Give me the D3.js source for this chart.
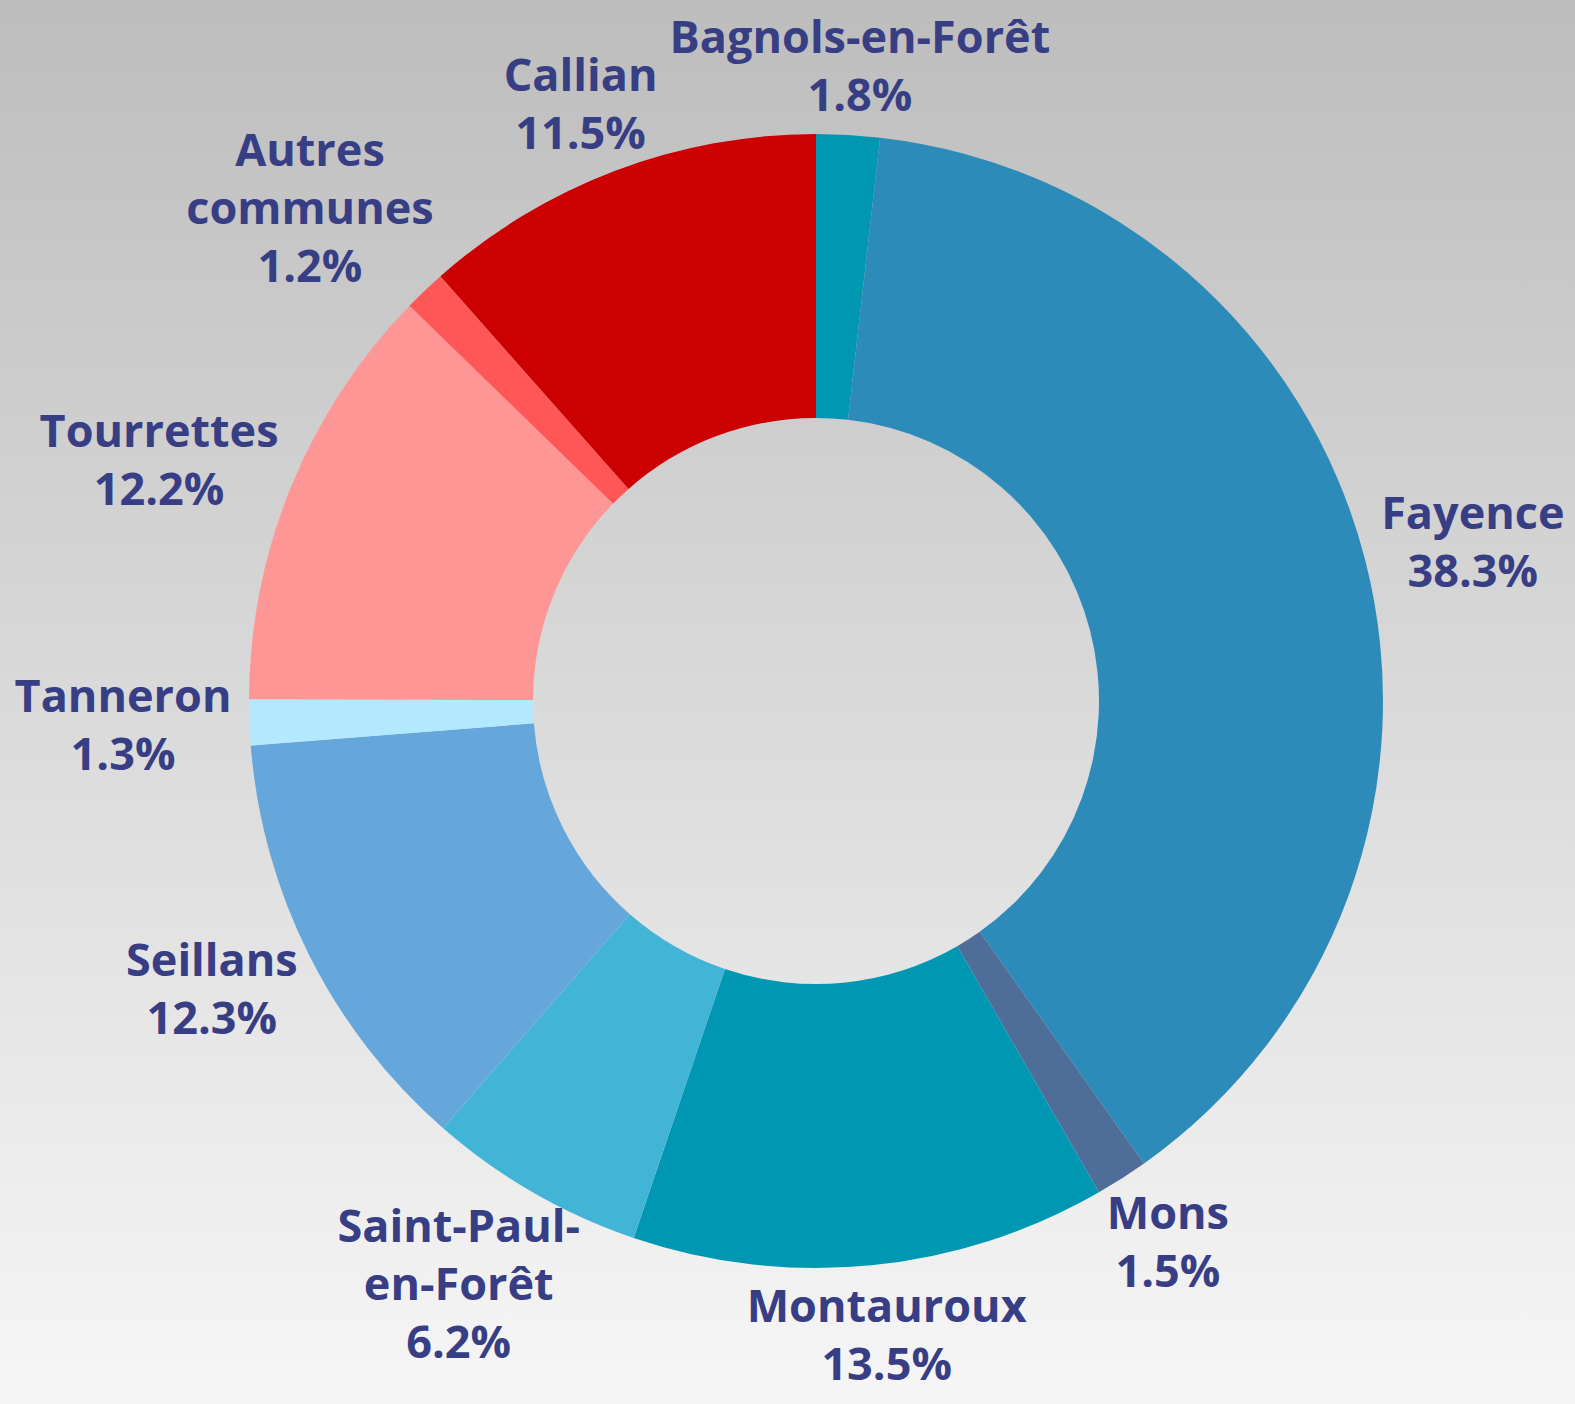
<!DOCTYPE html>
<html>
<head>
<meta charset="utf-8">
<script src="https://cdn.jsdelivr.net/npm/d3@7"></script>
<style>
  html, body { margin: 0; padding: 0; }
  body { width: 1575px; height: 1404px; overflow: hidden; }
  .label { font-family: "Open Sans", "Noto Sans", sans-serif; font-weight: 700; fill: #373e84; }
</style>
</head>
<body>
<script>
// Communes (clockwise from 12 o'clock) and their shares
const communes = ["Bagnols-en-Forêt", "Fayence", "Mons", "Montauroux", "Saint-Paul-en-Forêt",
    "Seillans", "Tanneron", "Tourrettes", "Autres communes", "Callian"];
const shares = [1.8, 38.3, 1.5, 13.5, 6.2, 12.3, 1.3, 12.2, 1.2, 11.5];
const labelLines = [["Bagnols-en-Forêt"], ["Fayence"], ["Mons"], ["Montauroux"], ["Saint-Paul-", "en-Forêt"],
    ["Seillans"], ["Tanneron"], ["Tourrettes"], ["Autres", "communes"], ["Callian"]];
const colors = ["#0097b2", "#2d8bb9", "#4e6d98", "#0097b2", "#42b5d6",
    "#66a7db", "#b3e9ff", "#ff9696", "#ff5757", "#cc0000"];

const width = 1575;
const height = 1404;
const cx = 816;
const cy = 701;
const outerR = 567;
const innerR = 283;
const fontSize = 45;
const lineH = 58;
const labelPad = 4;
const labelOffset = 14;

const svg = d3.select("body").append("svg")
    .attr("width", width)
    .attr("height", height);

// background gradient
const grad = svg.append("defs").append("linearGradient")
    .attr("id", "bg")
    .attr("x1", 0).attr("y1", 0).attr("x2", 0).attr("y2", 1);
grad.append("stop").attr("offset", "0%").attr("stop-color", "#bdbdbd");
grad.append("stop").attr("offset", "100%").attr("stop-color", "#f6f6f6");

svg.append("rect")
    .attr("width", width)
    .attr("height", height)
    .attr("fill", "url(#bg)");

const data = communes.map((name, i) => ({ name, value: shares[i], lines: labelLines[i], color: colors[i] }));

const pie = d3.pie().sort(null).value(d => d.value);
const arc = d3.arc().innerRadius(innerR).outerRadius(outerR);

const g = svg.append("g").attr("transform", `translate(${cx},${cy})`);

const arcs = pie(data);

g.selectAll("path")
    .data(arcs)
    .enter()
    .append("path")
    .attr("d", arc)
    .attr("fill", d => d.data.color);

// labels: anchored at the outer edge of each slice, the text box pushed
// outward along the mid angle so it doesn't overlap the ring
arcs.forEach(a => {
    const mid = (a.startAngle + a.endAngle) / 2;
    const vx = Math.sin(mid);
    const vy = -Math.cos(mid);
    const lines = a.data.lines.concat([a.data.value.toFixed(1) + "%"]);

    const label = g.append("text")
        .attr("class", "label")
        .attr("text-anchor", "middle")
        .style("font-size", fontSize + "px");

    lines.forEach((t, i) => {
        label.append("tspan")
            .attr("x", 0)
            .attr("y", i * lineH)
            .text(t);
    });

    const w = label.node().getBBox().width + 2 * labelPad;
    const h = (lines.length - 1) * lineH + fontSize + 2 * labelPad;
    // halfway between tangent placement and box-edge placement
    const s = (1 + 1 / Math.max(Math.abs(vx), Math.abs(vy))) / 2;
    const px = vx * (outerR + labelOffset) + (w / 2) * vx * s;
    const py = vy * (outerR + labelOffset) + (h / 2) * vy * s;
    // block center -> first baseline
    label.attr("transform", `translate(${px},${py - h / 2 + labelPad + fontSize * 0.86})`);
});
</script>
</body>
</html>
